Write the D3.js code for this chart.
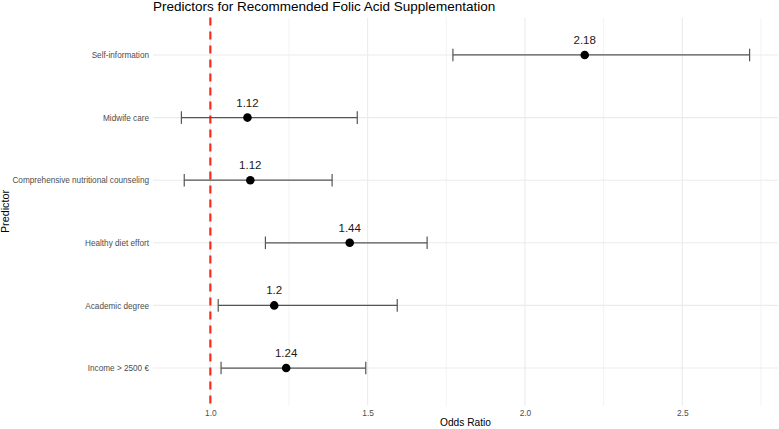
<!DOCTYPE html>
<html><head><meta charset="utf-8">
<script src="https://cdn.jsdelivr.net/npm/d3@7"></script>
<style>body{margin:0;background:#fff}svg{display:block}text{font-family:"Liberation Sans",Arial,sans-serif}</style>
</head><body>
<svg id="c" width="779" height="429"></svg>
<script>
const predictors = ["Self-information","Midwife care","Comprehensive nutritional counseling","Healthy diet effort","Academic degree","Income > 2500 €"];
const oddsRatio = [2.18, 1.12, 1.12, 1.44, 1.2, 1.24];
const ciLower = [1.771, 0.908, 0.917, 1.175, 1.025, 1.034];
const ciUpper = [2.714, 1.467, 1.387, 1.689, 1.594, 1.494];
const oddsPos = [2.19, 1.118, 1.127, 1.443, 1.203, 1.241];
const xTicks = [1.0, 1.5, 2.0, 2.5];
const xMinor = [1.25, 1.75, 2.25, 2.75];

const svg = d3.select("#c");
const L = 153, R = 778, T = 17.4, B = 405.6;
const lo = d3.min(ciLower), hi = d3.max(ciUpper), pad = (hi - lo) * 0.05;
const x = d3.scaleLinear().domain([lo - pad, hi + pad]).range([L, R]);
const y = d3.scalePoint().domain(predictors).range([T, B]).padding(0.6);

// grid
svg.append("g").selectAll("line").data(xMinor).join("line")
  .attr("x1", d => x(d)).attr("x2", d => x(d)).attr("y1", T).attr("y2", B)
  .attr("stroke", "#ebebeb").attr("stroke-width", 0.6);
svg.append("g").selectAll("line").data(xTicks).join("line")
  .attr("x1", d => x(d)).attr("x2", d => x(d)).attr("y1", T).attr("y2", B)
  .attr("stroke", "#ebebeb").attr("stroke-width", 1.1);
svg.append("g").selectAll("line").data(predictors).join("line")
  .attr("x1", L).attr("x2", R).attr("y1", d => y(d)).attr("y2", d => y(d))
  .attr("stroke", "#ebebeb").attr("stroke-width", 1.1);

// axes
const xAxis = d3.axisBottom(x).tickValues(xTicks).tickFormat(d3.format(".1f")).tickSize(0).tickPadding(4);
const gx = svg.append("g").attr("transform", `translate(0,${B})`).call(xAxis);
gx.select(".domain").remove();
gx.selectAll("text").attr("fill", "#4d4d4d").style("font-size", "8.4px");

const yAxis = d3.axisLeft(y).tickSize(0).tickPadding(4);
const gy = svg.append("g").attr("transform", `translate(${L},0)`).call(yAxis);
gy.select(".domain").remove();
gy.selectAll("text").attr("fill", "#4d4d4d").style("font-size", "8.2px");

// reference line
svg.append("line").attr("x1", x(1)).attr("x2", x(1)).attr("y1", T).attr("y2", B)
  .attr("stroke", "#ff2a1a").attr("stroke-width", 2.2).attr("stroke-dasharray", "8,6");

const data = predictors.map((p, i) => ({p, or: oddsRatio[i], lo: ciLower[i], hi: ciUpper[i], pos: oddsPos[i]}));
const eb = svg.append("g").attr("stroke", "#555").attr("stroke-width", 1.2);
eb.selectAll(".h").data(data).join("line")
  .attr("x1", d => x(d.lo)).attr("x2", d => x(d.hi)).attr("y1", d => y(d.p)).attr("y2", d => y(d.p));
eb.selectAll(".l").data(data).join("line")
  .attr("x1", d => x(d.lo)).attr("x2", d => x(d.lo)).attr("y1", d => y(d.p) - 6.3).attr("y2", d => y(d.p) + 6.3);
eb.selectAll(".r").data(data).join("line")
  .attr("x1", d => x(d.hi)).attr("x2", d => x(d.hi)).attr("y1", d => y(d.p) - 6.3).attr("y2", d => y(d.p) + 6.3);

svg.append("g").selectAll("circle").data(data).join("circle")
  .attr("cx", d => x(d.pos)).attr("cy", d => y(d.p)).attr("r", 4.3).attr("fill", "#000");

svg.append("g").selectAll("text").data(data).join("text")
  .attr("x", d => x(d.pos)).attr("y", d => y(d.p) - 11)
  .attr("text-anchor", "middle").attr("fill", "#1a1a1a").style("font-size", "11.5px")
  .text(d => String(d.or));

svg.append("text").attr("x", L).attr("y", 11).attr("fill", "#000").style("font-size", "13.5px")
  .text("Predictors for Recommended Folic Acid Supplementation");
svg.append("text").attr("x", (L + R) / 2).attr("y", 426).attr("text-anchor", "middle")
  .attr("fill", "#000").style("font-size", "10.2px").text("Odds Ratio");
svg.append("text").attr("transform", `translate(9,${(T + B) / 2}) rotate(-90)`).attr("text-anchor", "middle")
  .attr("fill", "#000").style("font-size", "10.8px").text("Predictor");
</script>
</body></html>
